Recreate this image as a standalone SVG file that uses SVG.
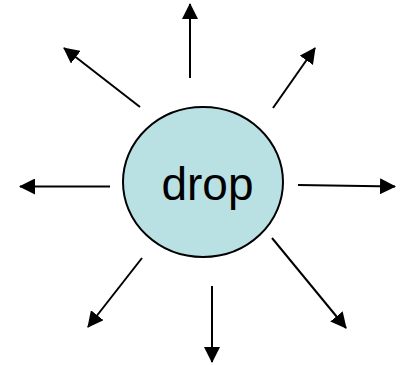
<svg xmlns="http://www.w3.org/2000/svg" width="404" height="365" viewBox="0 0 404 365">
<style>
.c{stroke:#000;stroke-width:2;fill:none;marker-end:url(#ah)}
.n{fill:#b9e1e4;stroke:#000;stroke-width:2}
.t{font-family:"Liberation Sans",Arial,sans-serif;font-size:46px;fill:#000}
</style>
<defs>
<marker id="ah" viewBox="0 0 16 16" refX="15" refY="8" markerWidth="16" markerHeight="16" markerUnits="userSpaceOnUse" orient="auto">
<path d="M0,0 L16,8 L0,16 Z" fill="#000"/>
</marker>
</defs>
<rect width="404" height="365" fill="#fff"/>
<g id="connectors">
<line class="c" x1="190" y1="78" x2="190" y2="4"/>
<line class="c" x1="140" y1="107" x2="64" y2="48"/>
<line class="c" x1="273" y1="108" x2="315" y2="48"/>
<line class="c" x1="110" y1="186.5" x2="20" y2="186.5"/>
<line class="c" x1="298" y1="185" x2="395" y2="186.5"/>
<line class="c" x1="142" y1="258" x2="88" y2="327"/>
<line class="c" x1="212" y1="286" x2="212" y2="362"/>
<line class="c" x1="272" y1="238" x2="346" y2="328"/>
</g>
<g id="drop">
<ellipse class="n" cx="203" cy="182" rx="80" ry="75"/>
<text class="t" x="207.5" y="200" text-anchor="middle">drop</text>
</g>
</svg>
